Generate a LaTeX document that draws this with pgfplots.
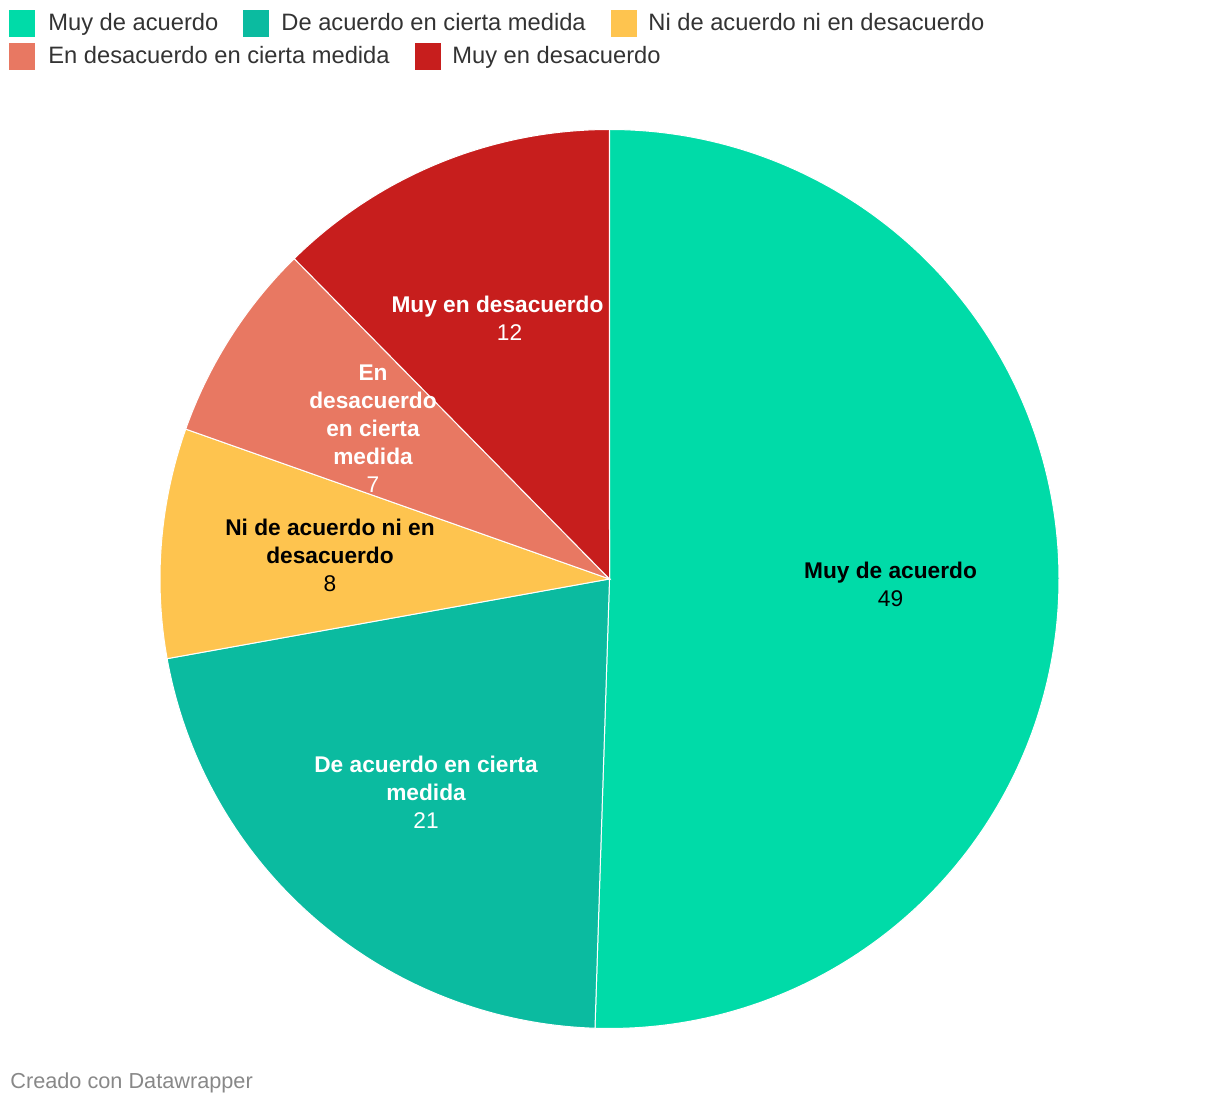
\documentclass[border=0pt]{standalone}
\usepackage{pgfplots}
\usepackage{pgfplotstable}
\pgfplotsset{compat=1.18}
\usepackage{fontspec}
\setmainfont{Liberation Sans}
\definecolor{cA}{HTML}{00DBA8}
\definecolor{cB}{HTML}{0BBBA0}
\definecolor{cC}{HTML}{FEC44F}
\definecolor{cD}{HTML}{E87862}
\definecolor{cE}{HTML}{C71E1D}
\definecolor{legtext}{HTML}{333333}
\definecolor{foot}{HTML}{888888}

\pgfplotstableread{
label value
MuyDeAcuerdo 49
DeAcuerdoCierta 21
Ni 8
EnDesacuerdoCierta 7
MuyEnDesacuerdo 12
}\piedata

\pgfplotstablegetelem{0}{value}\of\piedata \let\va\pgfplotsretval
\pgfplotstablegetelem{1}{value}\of\piedata \let\vb\pgfplotsretval
\pgfplotstablegetelem{2}{value}\of\piedata \let\vc\pgfplotsretval
\pgfplotstablegetelem{3}{value}\of\piedata \let\vd\pgfplotsretval
\pgfplotstablegetelem{4}{value}\of\piedata \let\ve\pgfplotsretval
\pgfmathsetmacro\total{\va+\vb+\vc+\vd+\ve}
\pgfmathsetmacro\aA{90}
\pgfmathsetmacro\aB{\aA-360*(\va/\total)}
\pgfmathsetmacro\aC{\aB-360*(\vb/\total)}
\pgfmathsetmacro\aD{\aC-360*(\vc/\total)}
\pgfmathsetmacro\aE{\aD-360*(\vd/\total)}
\pgfmathsetmacro\aF{\aE-360*(\ve/\total)}

\newcommand\R{449.5}
\newcommand\Lfont{\fontsize{11.85}{13}\selectfont}
\newcommand\Bfont{\fontsize{11.35}{13}\selectfont\bfseries}
\newcommand\Nfont{\fontsize{11.35}{13}\selectfont}

\begin{document}
\begin{tikzpicture}
\begin{axis}[
  width=610pt, height=553pt, scale only axis, hide axis,
  xmin=-609.5, xmax=610.5, ymin=-527, ymax=579,
  clip=false,
]
\path (rel axis cs:0,0) rectangle (rel axis cs:1,1);
% pie slices
\addplot[fill=cA, draw=white, line width=0.5pt, domain=\aB:\aA, samples=181, variable=\t]
  ({\R*cos(\t)},{\R*sin(\t)}) -- (axis cs:0,0) -- cycle;
\addplot[fill=cB, draw=white, line width=0.5pt, domain=\aC:\aB, samples=80, variable=\t]
  ({\R*cos(\t)},{\R*sin(\t)}) -- (axis cs:0,0) -- cycle;
\addplot[fill=cC, draw=white, line width=0.5pt, domain=\aD:\aC, samples=40, variable=\t]
  ({\R*cos(\t)},{\R*sin(\t)}) -- (axis cs:0,0) -- cycle;
\addplot[fill=cD, draw=white, line width=0.5pt, domain=\aE:\aD, samples=40, variable=\t]
  ({\R*cos(\t)},{\R*sin(\t)}) -- (axis cs:0,0) -- cycle;
\addplot[fill=cE, draw=white, line width=0.5pt, domain=\aF:\aE, samples=50, variable=\t]
  ({\R*cos(\t)},{\R*sin(\t)}) -- (axis cs:0,0) -- cycle;

% slice labels (pixel coordinates: x-609.5, 579-y)
\node[anchor=base, font=\Bfont, text=black] at (axis cs:{890.5-609.5},{579-579}) {Muy de acuerdo};
\node[anchor=base, font=\Nfont, text=black] at (axis cs:{890.5-609.5},{579-607}) {49};

\node[anchor=base, font=\Bfont, text=white] at (axis cs:{426-609.5},{579-773}) {De acuerdo en cierta};
\node[anchor=base, font=\Bfont, text=white] at (axis cs:{426-609.5},{579-801}) {medida};
\node[anchor=base, font=\Nfont, text=white] at (axis cs:{426-609.5},{579-829}) {21};

\node[anchor=base, font=\Bfont, text=black] at (axis cs:{330-609.5},{579-536}) {Ni de acuerdo ni en};
\node[anchor=base, font=\Bfont, text=black] at (axis cs:{330-609.5},{579-564}) {desacuerdo};
\node[anchor=base, font=\Nfont, text=black] at (axis cs:{330-609.5},{579-592}) {8};

\node[anchor=base, font=\Bfont, text=white] at (axis cs:{373-609.5},{579-381}) {En};
\node[anchor=base, font=\Bfont, text=white] at (axis cs:{373-609.5},{579-409}) {desacuerdo};
\node[anchor=base, font=\Bfont, text=white] at (axis cs:{373-609.5},{579-437}) {en cierta};
\node[anchor=base, font=\Bfont, text=white] at (axis cs:{373-609.5},{579-465}) {medida};
\node[anchor=base, font=\Nfont, text=white] at (axis cs:{373-609.5},{579-493}) {7};

\node[anchor=base, font=\Bfont, text=white] at (axis cs:{497.5-609.5},{579-313}) {Muy en desacuerdo};
\node[anchor=base, font=\Nfont, text=white] at (axis cs:{509.5-609.5},{579-341}) {12};

% legend
\fill[cA] (axis cs:{9-609.5},{579-10}) rectangle (axis cs:{35-609.5},{579-37});
\node[anchor=base west, inner sep=0pt, font=\Lfont, text=legtext] at (axis cs:{48-609.5},{579-31}) {Muy de acuerdo};
\fill[cB] (axis cs:{243-609.5},{579-10}) rectangle (axis cs:{269-609.5},{579-37});
\node[anchor=base west, inner sep=0pt, font=\Lfont, text=legtext] at (axis cs:{281-609.5},{579-31}) {De acuerdo en cierta medida};
\fill[cC] (axis cs:{611-609.5},{579-10}) rectangle (axis cs:{637-609.5},{579-37});
\node[anchor=base west, inner sep=0pt, font=\Lfont, text=legtext] at (axis cs:{648-609.5},{579-31}) {Ni de acuerdo ni en desacuerdo};
\fill[cD] (axis cs:{9-609.5},{579-43}) rectangle (axis cs:{35-609.5},{579-70});
\node[anchor=base west, inner sep=0pt, font=\Lfont, text=legtext] at (axis cs:{48-609.5},{579-64}) {En desacuerdo en cierta medida};
\fill[cE] (axis cs:{415-609.5},{579-43}) rectangle (axis cs:{441-609.5},{579-70});
\node[anchor=base west, inner sep=0pt, font=\Lfont, text=legtext] at (axis cs:{452-609.5},{579-64}) {Muy en desacuerdo};

% footer
\node[anchor=base west, inner sep=0pt, font=\fontsize{10.85}{12}\selectfont, text=foot] at (axis cs:{10-609.5},{579-1089}) {Creado con Datawrapper};
\end{axis}
\end{tikzpicture}
\end{document}
